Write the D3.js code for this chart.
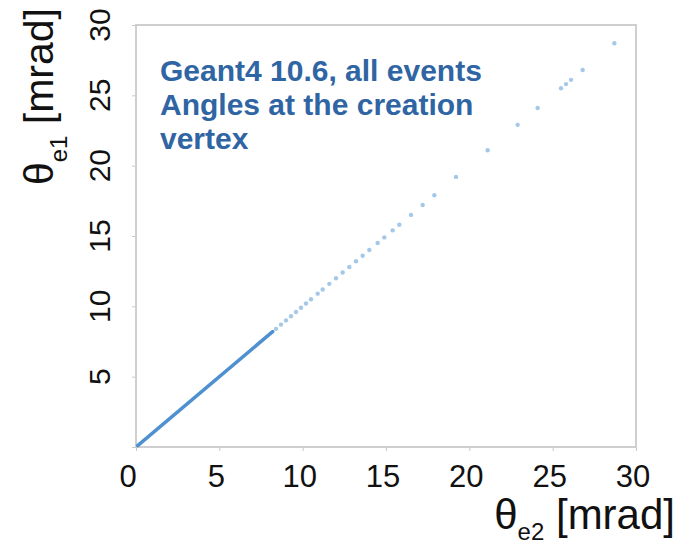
<!DOCTYPE html>
<html lang="en">
<head>
    <meta charset="UTF-8">
    <script src="https://d3js.org/d3.v7.min.js"></script>
    <title>theta e1 vs theta e2</title>
    <style>
        body { margin: 0; background: #fff; }
        svg { display: block; font-family: "Liberation Sans", Arial, sans-serif; }
    </style>
</head>
<body>
    <svg width="685" height="545"></svg>
    <script>
        // tick values on both axes (mrad)
        const ticks = [0, 5, 10, 15, 20, 25, 30];

        // dense core of the distribution, drawn as a band
        const coreE2 = [0.1, 8.2];
        const coreE1 = [0.1, 8.2];

        // individual events (theta_e2, theta_e1)
        const pointsE2 = [8.4, 8.7, 9.0, 9.3, 9.6, 9.9, 10.2, 10.5, 10.9, 11.2, 11.6, 12.0, 12.4, 12.8, 13.2, 13.6,
                          14.0, 14.5, 14.9, 15.4, 15.8, 16.5, 17.2, 17.9, 19.2, 21.1, 22.9, 24.1, 25.5, 25.8, 26.1, 26.8, 28.7];
        const pointsE1 = [8.4, 8.7, 9.0, 9.3, 9.6, 9.9, 10.2, 10.5, 10.9, 11.2, 11.6, 12.0, 12.4, 12.8, 13.2, 13.6,
                          14.0, 14.5, 14.9, 15.4, 15.8, 16.5, 17.2, 17.9, 19.2, 21.1, 22.9, 24.1, 25.5, 25.8, 26.1, 26.8, 28.7];

        const margin = { top: 25, right: 49, bottom: 98, left: 136 };
        const width = 685, height = 545;

        const x = d3.scaleLinear().domain([0, 30]).range([margin.left, width - margin.right]);
        const y = d3.scaleLinear().domain([0, 30]).range([height - margin.bottom, margin.top]);

        const svg = d3.select('svg');

        // axes with short faint ticks, labels added separately
        svg.append('g')
            .attr('transform', `translate(0, ${y(0)})`)
            .call(d3.axisBottom(x).tickValues(ticks).tickSize(4).tickFormat(''))
            .call(g => g.select('.domain').remove())
            .call(g => g.selectAll('line').attr('stroke', '#c8c8c8'));

        svg.append('g')
            .attr('transform', `translate(${x(0)}, 0)`)
            .call(d3.axisLeft(y).tickValues(ticks).tickSize(4).tickFormat(''))
            .call(g => g.select('.domain').remove())
            .call(g => g.selectAll('line').attr('stroke', '#c8c8c8'));

        // frame
        svg.append('rect')
            .attr('x', x(0)).attr('y', y(30))
            .attr('width', x(30) - x(0)).attr('height', y(0) - y(30))
            .attr('fill', 'none').attr('stroke', '#cfcfcf').attr('stroke-width', 2);

        // x tick labels
        svg.selectAll('.xlab')
            .data(ticks)
            .enter().append('text')
            .attr('class', 'xlab')
            .attr('x', d => x(d) - (d === 0 ? 8 : 3))
            .attr('y', 487)
            .attr('text-anchor', 'middle')
            .attr('font-size', 31)
            .attr('fill', '#111')
            .text(d => d);

        // y tick labels, rotated
        svg.selectAll('.ylab')
            .data(ticks.slice(1))
            .enter().append('text')
            .attr('class', 'ylab')
            .attr('transform', d => `translate(110, ${y(d)}) rotate(-90)`)
            .attr('text-anchor', 'middle')
            .attr('font-size', 30)
            .attr('fill', '#111')
            .text(d => d);

        // dense core
        const line = d3.line().x(d => x(d[0])).y(d => y(d[1]));
        svg.append('path')
            .datum(d3.zip(coreE2, coreE1))
            .attr('d', line)
            .attr('fill', 'none')
            .attr('stroke', '#4f91d0')
            .attr('stroke-width', 3.5)
            .attr('stroke-linecap', 'round');

        // scattered events
        svg.selectAll('circle')
            .data(d3.zip(pointsE2, pointsE1))
            .enter().append('circle')
            .attr('cx', d => x(d[0]))
            .attr('cy', d => y(d[1]))
            .attr('r', 2.2)
            .attr('fill', '#5b9bd5')
            .attr('fill-opacity', 0.55);

        // annotation
        const note = ['Geant4 10.6, all events', 'Angles at the creation', 'vertex'];
        svg.selectAll('.note')
            .data(note)
            .enter().append('text')
            .attr('class', 'note')
            .attr('x', 160)
            .attr('y', (d, i) => 81 + i * 34)
            .attr('font-size', 30)
            .attr('font-weight', 'bold')
            .attr('fill', '#2f65a3')
            .text(d => d);

        // x axis title
        const xt = svg.append('text')
            .attr('x', 675).attr('y', 529)
            .attr('text-anchor', 'end')
            .attr('font-size', 42)
            .attr('fill', '#111');
        xt.append('tspan').text('θ');
        xt.append('tspan').attr('font-size', 24).attr('dy', 11).text('e2');
        xt.append('tspan').attr('dy', -11).text(' [mrad]');

        // y axis title
        const yt = svg.append('text')
            .attr('transform', 'translate(53, 8) rotate(-90)')
            .attr('text-anchor', 'end')
            .attr('font-size', 41)
            .attr('fill', '#111');
        yt.append('tspan').text('θ');
        yt.append('tspan').attr('font-size', 24).attr('dy', 14).text('e1');
        yt.append('tspan').attr('dy', -14).text(' [mrad]');
    </script>
</body>
</html>
